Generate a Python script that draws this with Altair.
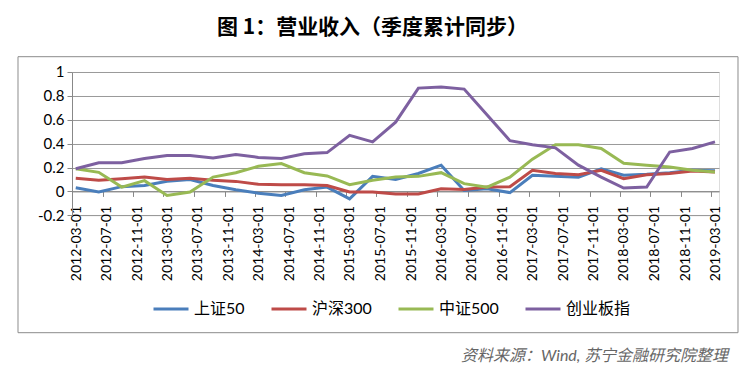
import altair as alt
import pandas as pd

# quarterly dates (placed mid-month like an Excel date axis)
dates = [
    "2012/03/16", "2012/06/16", "2012/09/16", "2012/12/16",
    "2013/03/16", "2013/06/16", "2013/09/16", "2013/12/16",
    "2014/03/16", "2014/06/16", "2014/09/16", "2014/12/16",
    "2015/03/16", "2015/06/16", "2015/09/16", "2015/12/16",
    "2016/03/16", "2016/06/16", "2016/09/16", "2016/12/16",
    "2017/03/16", "2017/06/16", "2017/09/16", "2017/12/16",
    "2018/03/16", "2018/06/16", "2018/09/16", "2018/12/16",
    "2019/03/16",
]

series_names = ["上证50", "沪深300", "中证500", "创业板指"]
series_colors = ["#4A7EBB", "#BE4B48", "#98B954", "#7D60A0"]

sz50 = [0.03, -0.005, 0.04, 0.05, 0.085, 0.10, 0.05, 0.014,
        -0.015, -0.034, 0.014, 0.036, -0.062, 0.126, 0.10, 0.15,
        0.22, 0.008, 0.022, -0.01, 0.135, 0.126, 0.118, 0.19,
        0.135, 0.143, 0.157, 0.177, 0.174]
hs300 = [0.11, 0.093, 0.107, 0.12, 0.10, 0.11, 0.093, 0.084,
         0.06, 0.056, 0.056, 0.05, -0.005, -0.005, -0.022, -0.022,
         0.022, 0.017, 0.036, 0.04, 0.177, 0.15, 0.14, 0.177,
         0.107, 0.14, 0.15, 0.17, 0.163]
zz500 = [0.19, 0.16, 0.036, 0.09, -0.034, -0.005, 0.12, 0.157,
         0.21, 0.233, 0.157, 0.13, 0.056, 0.093, 0.12, 0.126,
         0.157, 0.065, 0.036, 0.12, 0.27, 0.39, 0.39, 0.36,
         0.236, 0.22, 0.205, 0.177, 0.163]
cybz = [0.19, 0.24, 0.24, 0.275, 0.30, 0.30, 0.28, 0.31,
        0.285, 0.275, 0.315, 0.325, 0.47, 0.415, 0.58, 0.865,
        0.874, 0.857, 0.64, 0.425, 0.39, 0.365, 0.22, 0.12,
        0.028, 0.037, 0.33, 0.36, 0.415]

y_ticks = [-0.2, 0, 0.2, 0.4, 0.6, 0.8, 1]
tick_months = [(2012 + (2 + 4 * k) // 12, (2 + 4 * k) % 12 + 1) for k in range(22)]

title_text = "图 1：营业收入（季度累计同步）"
source_text = "资料来源：Wind, 苏宁金融研究院整理"

rows = []
for name, vals in zip(series_names, [sz50, hs300, zz500, cybz]):
    for d, v in zip(dates, vals):
        rows.append({"date": d, "value": v, "series": name})
df = pd.DataFrame(rows)

W = 647
H = 143.3

x_scale = alt.Scale(domain=[alt.DateTime(year=2012, month=3, date=1),
                            alt.DateTime(year=2019, month=4, date=1)], nice=False)

lines = alt.Chart(df).mark_line(strokeWidth=3).encode(
    x=alt.X("date:T", scale=x_scale, title=None,
            axis=alt.Axis(values=[alt.DateTime(year=y, month=m, date=1) for y, m in tick_months],
                          format="%Y-%m-%d", labelAngle=-90, offset=-H / 6,
                          labelOffset=4, tickSize=5, labelPadding=9, grid=False,
                          domainColor="#888888", tickColor="#888888",
                          labelFont="Lato", labelFontSize=14, labelColor="#000000")),
    y=alt.Y("value:Q", scale=alt.Scale(domain=[-0.2, 1], nice=False, zero=False), title=None,
            axis=alt.Axis(values=y_ticks, format=".1~f",
                          labelExpr="replace(datum.label, '\u2212', '-')",
                          tickSize=5, labelPadding=3, grid=True, gridColor="#999999",
                          domainColor="#888888", tickColor="#888888",
                          labelFont="Lato", labelFontSize=15, labelColor="#000000")),
    color=alt.Color("series:N",
                    scale=alt.Scale(domain=series_names, range=series_colors),
                    legend=alt.Legend(title=None, orient="none", direction="horizontal",
                                      legendX=80, legendY=218,
                                      symbolType="stroke", symbolSize=1225,
                                      symbolStrokeWidth=3, labelOffset=4,
                                      columnPadding=20,
                                      labelFont="Lato, Noto Sans CJK SC",
                                      labelFontSize=16, labelColor="#000000")),
    order=alt.value(0),
)

frame = alt.Chart(pd.DataFrame({"k": [0]})).mark_rect(
    fillOpacity=0, stroke="#8c8c8c", strokeWidth=1
).encode(x=alt.value(-54), x2=alt.value(666), y=alt.value(-15.3), y2=alt.value(260.7))

source = alt.Chart(pd.DataFrame({"t": [source_text]})).mark_text(
    align="right", baseline="middle", fontStyle="italic",
    font="Lato, Noto Sans CJK SC", fontSize=16, color="#666666"
).encode(text="t:N", x=alt.value(656), y=alt.value(284.5))

chart = alt.layer(frame, lines, source).properties(
    width=W, height=H,
    title=alt.TitleParams(title_text, anchor="middle", font="Noto Sans CJK SC",
                          fontSize=21, fontWeight="bold", color="#000000",
                          offset=18, dx=-23),
    autosize=alt.AutoSizeParams(type="none"),
    padding={"left": 64, "top": 64, "right": 29, "bottom": 160},
).configure_view(stroke=None).configure(background="white")

chart.save("out.html", embed_options={"renderer": "svg", "actions": False})
